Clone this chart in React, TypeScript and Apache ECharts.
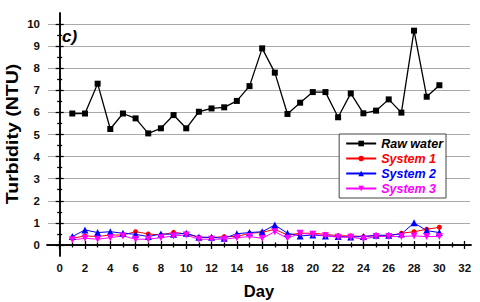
import React, { useEffect, useRef } from "react";
import * as echarts from "echarts";

const days = [1,2,3,4,5,6,7,8,9,10,11,12,13,14,15,16,17,18,19,20,21,22,23,24,25,26,27,28,29,30];
const rawWater = [5.95,5.95,7.3,5.25,5.95,5.73,5.05,5.28,5.88,5.28,6.03,6.18,6.23,6.52,7.19,8.9,7.8,5.93,6.44,6.92,6.92,5.78,6.86,5.96,6.08,6.59,5.99,9.7,6.71,7.23];
const system1 = [0.3,0.41,0.38,0.45,0.45,0.6,0.5,0.45,0.57,0.5,0.35,0.33,0.38,0.38,0.53,0.57,0.71,0.45,0.53,0.53,0.48,0.42,0.41,0.38,0.42,0.41,0.53,0.6,0.71,0.8];
const system2 = [0.38,0.68,0.56,0.6,0.53,0.48,0.38,0.5,0.48,0.53,0.35,0.35,0.3,0.51,0.56,0.6,0.9,0.53,0.41,0.45,0.41,0.38,0.36,0.38,0.44,0.44,0.5,1.0,0.65,0.56];
const system3 = [0.23,0.3,0.26,0.33,0.41,0.26,0.26,0.33,0.41,0.45,0.26,0.26,0.26,0.33,0.38,0.3,0.6,0.3,0.53,0.48,0.42,0.35,0.35,0.27,0.38,0.38,0.38,0.41,0.38,0.38];

const xMajor = [0,2,4,6,8,10,12,14,16,18,20,22,24,26,28,30,32];
const xMinor = [1,3,5,7,9,11,13,15,17,19,21,23,25,27,29,31];
const yMajor = [0,1,2,3,4,5,6,7,8,9,10];
const yMinor = [0.5,1.5,2.5,3.5,4.5,5.5,6.5,7.5,8.5,9.5];

const FONT = "'Liberation Sans', Arial, sans-serif";
const Y_MIN = -0.5;
const Y_MAX = 10.5;
const G_TOP = 13;
const G_BOTTOM = 46;
const H = 302;

export default function App() {
  const ref = useRef<HTMLDivElement>(null);
  useEffect(() => {
    if (!ref.current) return;
    const chart = echarts.init(ref.current, null, { renderer: "svg" });
    const pair = (arr: number[]) => days.map((d, i) => [d, arr[i]]);
    const axisLineStyle = { color: "#000", width: 1.5 };
    const mkX = (pos: string, ticks: number[], len: number, labels: boolean, line: boolean, name?: string) => ({
      type: "value", position: pos, min: -1, max: 32.5, gridIndex: 0,
      name: name, nameLocation: "middle", nameGap: 26,
      nameTextStyle: { fontFamily: FONT, fontWeight: "bold", fontSize: 16.5, color: "#000" },
      axisLine: { show: line, lineStyle: axisLineStyle },
      axisTick: { show: true, inside: true, length: len, customValues: ticks, lineStyle: { color: "#000", width: 1.3 } },
      axisLabel: { show: labels, customValues: xMajor, fontFamily: FONT, fontWeight: "bold", fontSize: 11.5, color: "#111", margin: 6 },
      splitLine: { show: false },
    });
    const mkY = (pos: string, ticks: number[], len: number, labels: boolean, line: boolean) => ({
      type: "value", position: pos, min: Y_MIN, max: Y_MAX, gridIndex: 0,
      axisLine: { show: line, lineStyle: axisLineStyle },
      axisTick: { show: true, inside: true, length: len, customValues: ticks, lineStyle: { color: "#000", width: 1.3 } },
      axisLabel: { show: labels, customValues: yMajor, fontFamily: FONT, fontWeight: "bold", fontSize: 11.5, color: "#111", margin: 7 },
      splitLine: { show: false },
    });
    const mkSeries = (name: string, arr: number[], color: string, symbol: string, size: number, lw: number) => ({
      name, type: "line", data: pair(arr), xAxisIndex: 0, yAxisIndex: 0,
      symbol, symbolSize: size, showAllSymbol: true, z: 3,
      lineStyle: { color, width: lw }, itemStyle: { color },
    });
    // second grid aligned with the main one, used only for the integer gridlines
    const unit = (H - G_TOP - G_BOTTOM) / (Y_MAX - Y_MIN);
    const g2Top = G_TOP + (Y_MAX - 10) * unit;
    const g2Bottom = G_BOTTOM + (0 - Y_MIN) * unit;
    chart.setOption({
      animation: false,
      backgroundColor: "#fff",
      grid: [
        { left: 47, right: 9, top: G_TOP, bottom: G_BOTTOM, outerBoundsMode: "none", containLabel: false },
        { left: 48, right: 10, top: g2Top, bottom: g2Bottom, outerBoundsMode: "none", containLabel: false },
      ],
      xAxis: [
        mkX("bottom", xMajor, 4, true, true, "Day"),
        mkX("bottom", xMinor, 2.5, false, false),
        mkX("top", xMajor, 4, false, true),
        mkX("top", xMinor, 2.5, false, false),
        { type: "value", gridIndex: 1, min: 0, max: 1, axisLine: { show: false }, axisTick: { show: false }, axisLabel: { show: false }, splitLine: { show: false } },
      ],
      yAxis: [
        mkY("left", yMajor, 4, true, true),
        mkY("left", yMinor, 2.5, false, false),
        mkY("right", yMajor, 4, false, true),
        mkY("right", yMinor, 2.5, false, false),
        {
          type: "value", gridIndex: 1, min: 0, max: 10, interval: 1,
          axisLine: { show: false }, axisTick: { show: false }, axisLabel: { show: false },
          splitLine: { show: true, lineStyle: { color: "#aaaaaa", width: 1.2, type: "solid" } },
        },
      ],
      legend: {
        orient: "vertical", right: 34, top: 134,
        backgroundColor: "#fff", borderColor: "#444", borderWidth: 1,
        padding: [3, 3, 3, 6], itemGap: 2, itemWidth: 30, itemHeight: 7,
        textStyle: { fontFamily: FONT, fontWeight: "bold", fontStyle: "italic", fontSize: 12.5 },
        data: [
          { name: "Raw water", textStyle: { color: "#000" } },
          { name: "System 1", textStyle: { color: "#ff0000" } },
          { name: "System 2", textStyle: { color: "#0000ff" } },
          { name: "System 3", textStyle: { color: "#ff00ff" } },
        ],
      },
      graphic: [
        { type: "text", left: 62, top: 28, style: { text: "c)", fontFamily: FONT, fontWeight: "bold", fontStyle: "italic", fontSize: 17, fill: "#000" } },
        { type: "text", x: 13, y: 134, rotation: Math.PI / 2, scaleX: 1.22, style: { text: "Turbidity (NTU)", fontFamily: FONT, fontWeight: "bold", fontSize: 16, fill: "#000", align: "center", verticalAlign: "middle" } },
      ],
      series: [
        mkSeries("Raw water", rawWater, "#000000", "rect", 6, 1.3),
        mkSeries("System 1", system1, "#ff0000", "circle", 5, 1),
        mkSeries("System 2", system2, "#0000ff", "triangle", 7, 1),
        mkSeries("System 3", system3, "#ff00ff", "path://M0,0L10,0L5,9Z", 7, 1),
      ],
    });
    return () => chart.dispose();
  }, []);
  return <div ref={ref} style={{ width: 480, height: 302, position: "absolute", left: 0, top: 0 }} />;
}
